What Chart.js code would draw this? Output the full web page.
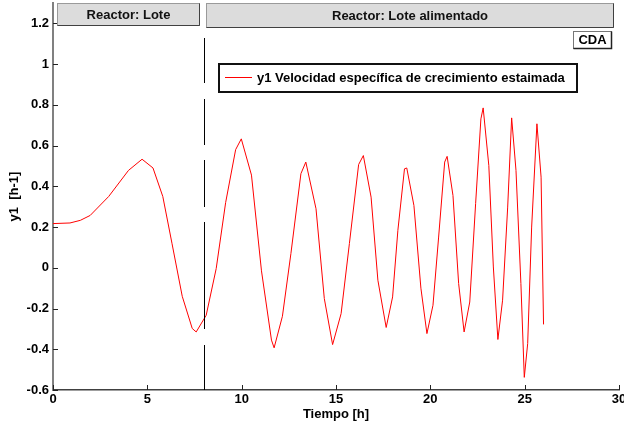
<!DOCTYPE html>
<html>
<head>
<meta charset="utf-8">
<script src="https://cdn.jsdelivr.net/npm/chart.js@4.4.1/dist/chart.umd.min.js"></script>
<style>
  html, body { margin: 0; padding: 0; background: #fff; }
</style>
</head>
<body>
<canvas id="velChart" width="624" height="426"></canvas>
<script>
// time [h] and estimated specific growth rate y1 [h-1]
const tiempo = [0, 0.9, 1.45, 1.97, 2.95, 4.0, 4.72, 5.3, 5.82, 6.31, 6.85, 7.38, 7.59, 8.12, 8.65,
  9.15, 9.68, 9.98, 10.52, 11.05, 11.58, 11.72, 12.16, 12.61, 13.14, 13.4, 13.94, 14.38, 14.82,
  15.27, 15.71, 16.2, 16.45, 16.86, 17.22, 17.66, 18.0, 18.28, 18.63, 18.75, 19.13, 19.5, 19.82,
  20.14, 20.44, 20.76, 20.89, 21.2, 21.5, 21.79, 22.09, 22.4, 22.68, 22.8, 23.1, 23.34, 23.58,
  23.83, 24.1, 24.31, 24.54, 24.8, 24.98, 25.16, 25.37, 25.65, 25.87, 26.0];
const y1 = [0.217, 0.22, 0.233, 0.257, 0.35, 0.478, 0.533, 0.49, 0.35, 0.118, -0.14, -0.298, -0.315, -0.233, -0.004,
  0.32, 0.58, 0.633, 0.455, -0.015, -0.355, -0.393, -0.238, 0.07, 0.462, 0.519, 0.29, -0.151, -0.377,
  -0.225, 0.119, 0.507, 0.551, 0.347, -0.061, -0.293, -0.143, 0.184, 0.486, 0.49, 0.306, -0.1, -0.323,
  -0.184, 0.151, 0.519, 0.547, 0.355, -0.077, -0.315, -0.168, 0.315, 0.731, 0.785, 0.502, 0.004, -0.352,
  -0.159, 0.298, 0.736, 0.478, -0.077, -0.538, -0.372, 0.2, 0.707, 0.445, -0.278];

const xTicks = [0, 5, 10, 15, 20, 25, 30];
const yTicks = [-0.6, -0.4, -0.2, 0, 0.2, 0.4, 0.6, 0.8, 1, 1.2];
const yTickLabels = ['-0.6', '-0.4', '-0.2', '0', '0.2', '0.4', '0.6', '0.8', '1', '1.2'];

const tCambio = 8;   // batch -> fed-batch switch
const etiquetaSerie = 'y1 Velocidad específica de crecimiento estaimada';
const etapa1 = 'Reactor: Lote';
const etapa2 = 'Reactor: Lote alimentado';
const etiquetaCDA = 'CDA';

const fontBold = '"Liberation Sans", Arial, sans-serif';
const fs = 13;

const points = tiempo.map((t, i) => ({ x: t, y: y1[i] }));

// extra drawing: inward ticks, dashed switch line, header panels, legend box
const extras = {
  id: 'extras',
  afterDraw(chart) {
    const ctx = chart.ctx;
    const a = chart.chartArea;
    const xs = chart.scales.x, ys = chart.scales.y;
    ctx.save();

    // tick marks pointing inward
    ctx.strokeStyle = '#222';
    ctx.lineWidth = 1;
    xTicks.forEach(v => {
      const px = Math.round(xs.getPixelForValue(v)) + 0.5;
      ctx.beginPath(); ctx.moveTo(px, a.bottom); ctx.lineTo(px, a.bottom - 5); ctx.stroke();
    });
    yTicks.forEach(v => {
      const py = Math.round(ys.getPixelForValue(v)) + 0.5;
      ctx.beginPath(); ctx.moveTo(a.left, py); ctx.lineTo(a.left + 5, py); ctx.stroke();
    });

    // dashed line at the switch time
    const xc = Math.round(xs.getPixelForValue(tCambio)) + 0.5;
    ctx.strokeStyle = '#000';
    ctx.lineWidth = 1;
    ctx.setLineDash([45, 16, 46, 15, 47, 15, 107, 16]);
    ctx.beginPath(); ctx.moveTo(xc, a.top + 35); ctx.lineTo(xc, a.bottom); ctx.stroke();
    ctx.setLineDash([]);

    // header panels
    ctx.font = 'bold ' + fs + 'px ' + fontBold;
    ctx.textBaseline = 'middle';
    ctx.textAlign = 'center';
    const panel = (x0, x1, y0, y1p, txt) => {
      const l = Math.round(xs.getPixelForValue(x0)) + 0.5;
      const r = Math.round(xs.getPixelForValue(x1)) + 0.5;
      ctx.fillStyle = '#dcdcdc';
      ctx.fillRect(l, y0, r - l, y1p - y0);
      ctx.strokeStyle = '#9a9a9a';
      ctx.lineWidth = 1;
      ctx.strokeRect(l, y0, r - l, y1p - y0);
      ctx.strokeStyle = '#404040';
      ctx.beginPath(); ctx.moveTo(r, y0); ctx.lineTo(r, y1p); ctx.lineTo(l, y1p); ctx.stroke();
      ctx.fillStyle = '#111';
      ctx.fillText(txt, (l + r) / 2, (y0 + y1p) / 2 + 1);
    };
    panel(0.2, 7.75, a.top + 0.5, a.top + 22.5, etapa1);
    panel(8.1, 29.7, a.top + 0.5, a.top + 24.5, etapa2);

    // CDA tag
    ctx.fillStyle = '#fff';
    ctx.fillRect(573.5, 31.5, 38, 17);
    ctx.strokeStyle = '#777';
    ctx.strokeRect(573.5, 31.5, 38, 17);
    ctx.strokeStyle = '#222';
    ctx.lineWidth = 1.5;
    ctx.beginPath(); ctx.moveTo(611.5, 31.5); ctx.lineTo(611.5, 48.5); ctx.lineTo(573.5, 48.5); ctx.stroke();
    ctx.fillStyle = '#000';
    ctx.fillText(etiquetaCDA, 592.5, 40.5);

    // legend box
    ctx.fillStyle = '#fff';
    ctx.fillRect(219, 64, 358, 28);
    ctx.strokeStyle = '#111';
    ctx.lineWidth = 2;
    ctx.strokeRect(219, 64, 358, 28);
    ctx.strokeStyle = '#ff0000';
    ctx.lineWidth = 1;
    ctx.beginPath(); ctx.moveTo(225, 77.5); ctx.lineTo(252, 77.5); ctx.stroke();
    ctx.fillStyle = '#000';
    ctx.textAlign = 'left';
    ctx.fillText(etiquetaSerie, 257, 78.5);

    ctx.restore();
  }
};

new Chart(document.getElementById('velChart'), {
  type: 'scatter',
  data: {
    datasets: [{
      label: etiquetaSerie,
      data: points,
      showLine: true,
      borderColor: '#ff0000',
      borderWidth: 1,
      pointRadius: 0,
      tension: 0,
      fill: false
    }]
  },
  options: {
    responsive: false,
    animation: false,
    devicePixelRatio: 1,
    layout: { padding: { top: 3, right: 5, left: 0, bottom: 0 }, autoPadding: false },
    plugins: { legend: { display: false }, tooltip: { enabled: false } },
    scales: {
      x: {
        type: 'linear',
        min: 0, max: 30,
        afterBuildTicks: s => { s.ticks = xTicks.map(v => ({ value: v })); },
        afterFit: s => { s.height = 36; s.paddingLeft = 0; s.paddingRight = 0; },
        grid: { display: false, drawTicks: false },
        border: { display: true, color: '#404040', width: 1.5 },
        ticks: { color: '#000', font: { family: fontBold, size: fs, weight: 'bold' }, padding: 2, maxRotation: 0, autoSkip: false },
        title: { display: true, text: 'Tiempo [h]', color: '#000', font: { family: fontBold, size: fs, weight: 'bold' }, padding: { top: 0, bottom: 4 } }
      },
      y: {
        type: 'linear',
        min: -0.6, max: 1.3,
        afterBuildTicks: s => { s.ticks = yTicks.map(v => ({ value: v })); },
        afterFit: s => { s.width = 53; s.paddingTop = 0; s.paddingBottom = 0; },
        grid: { display: false, drawTicks: false },
        border: { display: true, color: '#808080', width: 2 },
        ticks: {
          color: '#000', font: { family: fontBold, size: fs, weight: 'bold' }, padding: 4, autoSkip: false,
          callback: (v, i) => yTickLabels[i]
        },
        title: { display: true, text: 'y1  [h-1]', color: '#000', font: { family: fontBold, size: fs, weight: 'bold' }, padding: { top: 7, bottom: 0 } }
      }
    }
  },
  plugins: [extras]
});
</script>
</body>
</html>
